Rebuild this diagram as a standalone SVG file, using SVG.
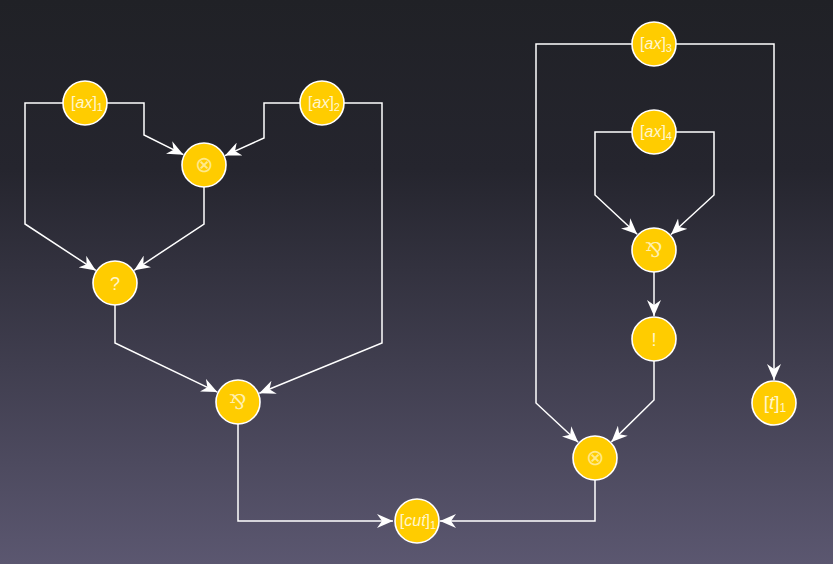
<svg xmlns="http://www.w3.org/2000/svg" width="833" height="564" viewBox="0 0 833 564">
<defs>
<linearGradient id="bg" x1="0" y1="0" x2="0" y2="1">
<stop offset="0" stop-color="#202126"/>
<stop offset="0.3" stop-color="#25252e"/>
<stop offset="1" stop-color="#5b5770"/>
</linearGradient>
<marker id="arr" markerUnits="userSpaceOnUse" markerWidth="17" markerHeight="14" refX="16" refY="7" orient="auto" viewBox="0 0 17 14">
<path d="M0,0 L16,7 L0,14 L5,7 z" fill="#fff"/>
</marker>
<style>
.n circle{fill:#ffcc00;stroke:#fff;stroke-width:1.6}
.n text{font-family:"Liberation Sans",Arial,sans-serif;fill:#fff6cc;text-anchor:middle}
.lbl{font-size:16px}
.sub{font-size:11px}
.sym{font-size:22px;font-weight:200}
.n text.sym{font-family:"DejaVu Sans",sans-serif;fill:#ffe98a}
.n text.par{font-family:"DejaVu Serif",serif;font-size:20px;fill:#fff0b0}
.big{font-size:18px}
.e path{fill:none;stroke:#fff;stroke-width:1.5;marker-end:url(#arr)}
</style>
</defs>
<rect width="833" height="564" fill="url(#bg)"/>
<g class="e" id="connectors">
<path d="M107,103 H144 V135 L183.4,154.7"/>
<path d="M63,103 H25 V224 L95.8,270.4"/>
<path d="M300,103 H264 V138 L225,155.6"/>
<path d="M344,103 H382 V343 L259.3,393.3"/>
<path d="M204,187 V224 L134.2,270.3"/>
<path d="M115,305 V343 L217.3,392.1"/>
<path d="M238,424 V521 H393"/>
<path d="M632,44 H536 V403 L578.2,442.3"/>
<path d="M676,44 H774 V380"/>
<path d="M632,132 H595 V195 L637.2,234.3"/>
<path d="M676,132 H714 V195 L671,234.5"/>
<path d="M654,272 V316"/>
<path d="M654,361 V400 L611.4,441.9"/>
<path d="M595,480 V521 H440"/>
</g>
<g class="n" id="ax1"><circle cx="85" cy="103" r="22"/><text x="87" y="108" class="lbl">[<tspan font-style="italic">ax</tspan>]<tspan class="sub" dy="3">1</tspan></text></g>
<g class="n" id="ax2"><circle cx="322" cy="103" r="22"/><text x="324" y="108" class="lbl">[<tspan font-style="italic">ax</tspan>]<tspan class="sub" dy="3">2</tspan></text></g>
<g class="n" id="tensor1"><circle cx="204" cy="165" r="22"/><text x="204" y="172" class="sym">⊗</text></g>
<g class="n" id="whynot"><circle cx="115" cy="283" r="22"/><text x="115" y="290" class="big">?</text></g>
<g class="n" id="par1"><circle cx="238" cy="402" r="22"/><text x="238" y="409" class="par">⅋</text></g>
<g class="n" id="cut1"><circle cx="417" cy="521" r="22"/><text x="418" y="526" class="lbl">[<tspan font-style="italic">cut</tspan>]<tspan class="sub" dy="3">1</tspan></text></g>
<g class="n" id="ax3"><circle cx="654" cy="44" r="22"/><text x="656" y="49" class="lbl">[<tspan font-style="italic">ax</tspan>]<tspan class="sub" dy="3">3</tspan></text></g>
<g class="n" id="ax4"><circle cx="654" cy="132" r="22"/><text x="656" y="137" class="lbl">[<tspan font-style="italic">ax</tspan>]<tspan class="sub" dy="3">4</tspan></text></g>
<g class="n" id="par2"><circle cx="654" cy="250" r="22"/><text x="654" y="257" class="par">⅋</text></g>
<g class="n" id="ofcourse"><circle cx="654" cy="339" r="22"/><text x="654" y="346" class="big">!</text></g>
<g class="n" id="tensor2"><circle cx="595" cy="458" r="22"/><text x="595" y="465" class="sym">⊗</text></g>
<g class="n" id="t1"><circle cx="774" cy="403" r="22"/><text x="775" y="409" font-size="19">[<tspan font-style="italic">t</tspan>]<tspan font-size="12" dy="3">1</tspan></text></g>
</svg>
